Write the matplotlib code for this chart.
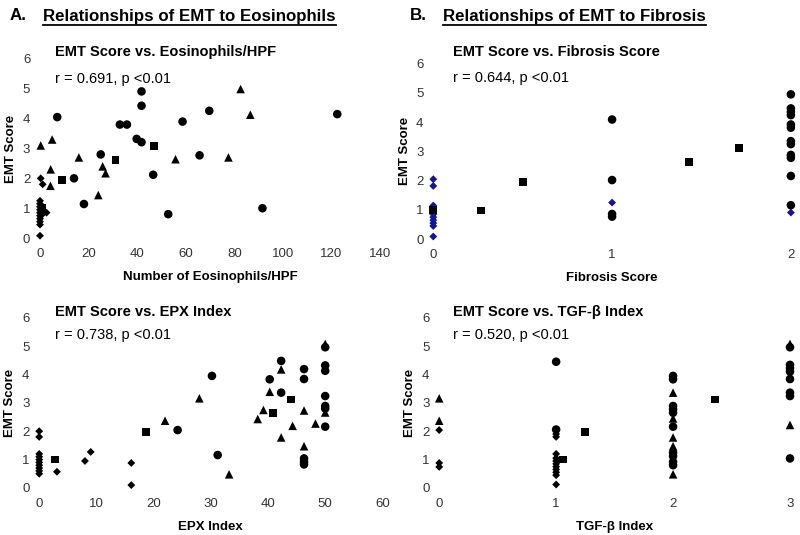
import matplotlib
matplotlib.use('Agg')
import matplotlib.pyplot as plt
from matplotlib.lines import Line2D

plt.rcParams['font.family'] = ['Liberation Sans', 'DejaVu Sans']

# ---- A top: EMT vs eosinophils/HPF ----
eos_dia_x = [0, 0, 0, 0, 0, 0, 0, 0, 0, 0, 0.3, 1.1, 1, 2.7]
eos_dia_y = [0.08, 0.45, 0.55, 0.65, 0.75, 0.85, 0.95, 1.05, 1.15, 1.25, 2.0, 1.8, 0.8, 0.85]
eos_sq_x = [1, 8.9, 31.1, 47]
eos_sq_y = [1.0, 1.95, 2.62, 3.09]
eos_tri_x = [0.3, 5, 4.4, 4.3, 16, 25.8, 27, 24, 55.8, 82.6, 86.6, 77.6]
eos_tri_y = [3.1, 3.3, 2.3, 1.75, 2.7, 2.4, 2.17, 1.44, 2.64, 4.99, 4.13, 2.7]
eos_cir_x = [7.1, 14, 18.1, 25, 32.9, 35.8, 39.8, 41.8, 41.8, 41.8, 46.6, 52.8, 58.7, 65.7, 69.7, 122.4, 91.6]
eos_cir_y = [4.05, 2.0, 1.14, 2.8, 3.8, 3.8, 3.32, 3.21, 4.91, 4.43, 2.12, 0.8, 3.9, 2.77, 4.26, 4.15, 1.0]

# ---- A bottom: EMT vs EPX index ----
epx_dia_x = [0, 0, 0, 0, 0, 0, 0, 0, 0, 0, 3.1, 8.0, 9.0, 16.1, 16.1]
epx_dia_y = [0.5, 0.6, 0.7, 0.8, 0.9, 1.0, 1.1, 1.2, 1.8, 2.0, 0.57, 0.95, 1.27, 0.88, 0.1]
epx_sq_x = [2.8, 18.6, 40.8, 44]
epx_sq_y = [1.0, 1.96, 2.65, 3.12]
epx_tri_x = [22, 28, 33.2, 38.2, 39.2, 40.3, 42.3, 42.3, 44.3, 46.3, 46.3, 48.3, 50, 50]
epx_tri_y = [2.37, 3.16, 0.48, 2.43, 2.75, 3.39, 4.18, 1.78, 2.19, 2.73, 1.47, 2.27, 5.08, 2.66]
epx_cir_x = [24.2, 30.2, 31.2, 40.3, 42.3, 42.3, 46.3, 46.3, 46.3, 46.3, 46.3,
             50, 50, 50, 50, 50, 50, 50]
epx_cir_y = [2.04, 3.95, 1.16, 3.83, 3.36, 4.48, 4.19, 3.84, 1.04, 0.92, 0.83,
             4.96, 4.32, 4.13, 3.24, 2.89, 2.8, 2.16]

# ---- B top: EMT vs fibrosis score ----
fib_dia_x = [0, 0, 0, 0, 0, 0, 0, 0, 0, 0, 0, 1, 2]
fib_dia_y = [0.09, 0.45, 0.55, 0.65, 0.75, 0.85, 0.95, 1.05, 1.15, 1.82, 2.05, 1.25, 0.91]
fib_sq_x = [0, 0.267, 0.503, 1.43, 1.71]
fib_sq_y = [1.0, 0.98, 1.94, 2.64, 3.12]
fib_cir_x = [1, 1, 1, 1, 2, 2, 2, 2, 2, 2, 2, 2, 2, 2, 2, 2]
fib_cir_y = [4.09, 2.02, 0.86, 0.77, 4.95, 4.47, 4.35, 4.24, 3.92, 3.81, 3.35, 3.25,
             2.88, 2.78, 2.16, 1.16]

# ---- B bottom: EMT vs TGF-beta index ----
tgf_dia_x = [0, 0, 0, 1, 1, 1, 1, 1, 1, 1, 1, 1, 1, 1]
tgf_dia_y = [2.04, 0.88, 0.74, 1.9, 1.8, 0.45, 0.55, 0.65, 0.75, 0.85, 0.95, 1.05, 1.2, 0.12]
tgf_sq_x = [1.06, 1.25, 2.36]
tgf_sq_y = [1.0, 1.96, 3.12]
tgf_tri_x = [0, 0, 2, 2, 2, 2, 2, 3, 3]
tgf_tri_y = [3.16, 2.37, 3.36, 2.45, 1.78, 1.47, 0.48, 5.08, 2.22]
tgf_cir_x = [1, 1, 2, 2, 2, 2, 2, 2, 2, 2, 2, 2, 3, 3, 3, 3, 3, 3, 3, 3]
tgf_cir_y = [4.45, 2.06, 3.95, 3.83, 2.89, 2.77, 2.65, 2.16, 1.24, 1.12, 0.92, 0.80,
             4.96, 4.34, 4.22, 4.1, 3.84, 3.36, 3.24, 1.04]

fig = plt.figure(figsize=(8, 5.35), dpi=100)

def setup(ax, xmax, xticks, xlabel):
    ax.set_xlim(0, xmax)
    ax.set_ylim(0, 6)
    ax.set_xticks(xticks)
    ax.set_yticks(range(7))
    for s in ax.spines.values():
        s.set_visible(False)
    ax.tick_params(length=0, labelsize=9.5, labelcolor='#333333', pad=7)
    ax.set_xlabel(xlabel, fontsize=9.5, fontweight='bold', labelpad=8)
    ax.set_ylabel('EMT Score', fontsize=9.5, fontweight='bold', labelpad=4)

def pts(ax, x, y, m, s, c='black'):
    ax.scatter(x, y, marker=m, s=s, c=c, edgecolors='none', clip_on=False, zorder=3)

ax1 = fig.add_axes([0.050, 0.555, 0.425, 0.335])
setup(ax1, 140, range(0, 141, 20), 'Number of Eosinophils/HPF')
pts(ax1, eos_dia_x, eos_dia_y, 'D', 16)
pts(ax1, eos_sq_x, eos_sq_y, 's', 32)
pts(ax1, eos_tri_x, eos_tri_y, '^', 38)
pts(ax1, eos_cir_x, eos_cir_y, 'o', 38)

ax2 = fig.add_axes([0.049, 0.088, 0.429, 0.318])
setup(ax2, 60, range(0, 61, 10), 'EPX Index')
pts(ax2, epx_dia_x, epx_dia_y, 'D', 16)
pts(ax2, epx_sq_x, epx_sq_y, 's', 32)
pts(ax2, epx_tri_x, epx_tri_y, '^', 38)
pts(ax2, epx_cir_x, epx_cir_y, 'o', 38)

ax3 = fig.add_axes([0.5416, 0.553, 0.447, 0.328])
setup(ax3, 2, [0, 1, 2], 'Fibrosis Score')
pts(ax3, fib_dia_x, fib_dia_y, 'D', 16, '#141496')
pts(ax3, fib_sq_x, fib_sq_y, 's', 32)
pts(ax3, fib_cir_x, fib_cir_y, 'o', 38)

ax4 = fig.add_axes([0.549, 0.088, 0.4385, 0.318])
setup(ax4, 3, [0, 1, 2, 3], 'TGF-β Index')
pts(ax4, tgf_dia_x, tgf_dia_y, 'D', 16)
pts(ax4, tgf_sq_x, tgf_sq_y, 's', 32)
pts(ax4, tgf_tri_x, tgf_tri_y, '^', 38)
pts(ax4, tgf_cir_x, tgf_cir_y, 'o', 38)

# panel titles and correlation text
def px(x, y):
    return x / 800, 1 - y / 535

sub = [(55, 52, 'EMT Score vs. Eosinophils/HPF', 79, 'r = 0.691, p <0.01'),
       (453, 52, 'EMT Score vs. Fibrosis Score', 78, 'r = 0.644, p <0.01'),
       (55, 312, 'EMT Score vs. EPX Index', 335, 'r = 0.738, p <0.01'),
       (453, 312, 'EMT Score vs. TGF-β Index', 335, 'r = 0.520, p <0.01')]
for x, y, t, yr, r in sub:
    fig.text(*px(x, y), t, fontsize=10.5, fontweight='bold', va='center', ha='left')
    fig.text(*px(x, yr), r, fontsize=10.5, va='center', ha='left')

# headers with underline
fig.canvas.draw()
rend = fig.canvas.get_renderer()
for xa, xb, lbl, txt in [(10, 43, 'A.', 'Relationships of EMT to Eosinophils'),
                         (410, 443, 'B.', 'Relationships of EMT to Fibrosis')]:
    fig.text(*px(xa, 16), lbl, fontsize=12.2, fontweight='bold', va='center')
    t = fig.text(*px(xb, 16), txt, fontsize=12.2, fontweight='bold', va='center')
    bb = t.get_window_extent(renderer=rend).transformed(fig.transFigure.inverted())
    fig.add_artist(Line2D([bb.x0, bb.x1], [bb.y0 - 0.002, bb.y0 - 0.002],
                          color='black', lw=1.3, transform=fig.transFigure))

fig.savefig('out.png', dpi=100)
